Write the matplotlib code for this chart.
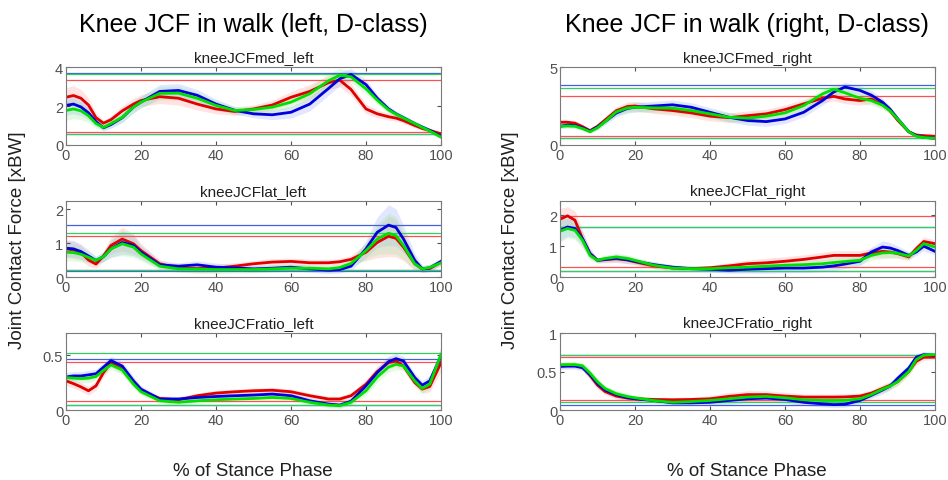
import numpy as np
import matplotlib
matplotlib.use('Agg')
import matplotlib.pyplot as plt
from matplotlib.ticker import FormatStrFormatter

plt.rcParams['font.family'] = ['Liberation Sans', 'DejaVu Sans']

# % of stance phase sample points
pct = [0, 2, 4, 6, 8, 10, 12, 15, 18, 20, 25, 30, 35, 40, 45, 50, 55, 60, 65, 70,
       73, 76, 80, 83, 86, 88, 90, 93, 95, 97, 100]

# ---- medial, left
med_l_red = [2.45, 2.54, 2.4, 2.05, 1.4, 1.12, 1.3, 1.75, 2.1, 2.28, 2.48, 2.4, 2.1, 1.85, 1.72, 1.85,
             2.05, 2.45, 2.75, 3.2, 3.33, 2.85, 1.85, 1.6, 1.45, 1.38, 1.25, 1.0, 0.85, 0.75, 0.57]
med_l_blue = [2.03, 2.1, 1.95, 1.65, 1.2, 0.88, 1.05, 1.4, 1.95, 2.2, 2.75, 2.8, 2.55, 2.1, 1.78, 1.6,
              1.55, 1.68, 2.1, 2.9, 3.4, 3.62, 3.1, 2.4, 1.85, 1.6, 1.4, 1.1, 0.92, 0.75, 0.45]
med_l_green = [1.77, 1.85, 1.75, 1.5, 1.1, 0.9, 1.1, 1.42, 1.95, 2.2, 2.65, 2.66, 2.4, 2.03, 1.77, 1.82,
               1.94, 2.2, 2.63, 3.3, 3.58, 3.5, 2.88, 2.3, 1.8, 1.58, 1.38, 1.1, 0.9, 0.72, 0.4]
med_l_sd = [0.5, 0.5, 0.45, 0.35, 0.25, 0.15, 0.2, 0.25, 0.3, 0.3, 0.35, 0.35, 0.3, 0.25, 0.2, 0.2,
            0.25, 0.3, 0.35, 0.35, 0.35, 0.3, 0.25, 0.2, 0.18, 0.15, 0.15, 0.12, 0.12, 0.12, 0.1]
med_l_lim = {'r': (0.67, 3.35), 'b': (0.55, 3.67), 'g': (0.57, 3.65)}

# ---- medial, right
med_r_red = [1.46, 1.46, 1.4, 1.18, 0.92, 1.2, 1.6, 2.2, 2.47, 2.5, 2.32, 2.21, 2.06, 1.85, 1.75, 1.88,
             2.0, 2.27, 2.64, 3.0, 3.12, 2.95, 2.85, 2.95, 2.6, 2.2, 1.6, 0.85, 0.64, 0.6, 0.56]
med_r_blue = [1.2, 1.28, 1.25, 1.1, 0.88, 1.15, 1.5, 2.05, 2.35, 2.42, 2.5, 2.58, 2.42, 2.1, 1.78, 1.57,
              1.5, 1.67, 2.1, 2.85, 3.4, 3.72, 3.5, 3.2, 2.75, 2.3, 1.7, 0.85, 0.6, 0.5, 0.43]
med_r_green = [1.2, 1.22, 1.2, 1.05, 0.85, 1.1, 1.5, 2.12, 2.38, 2.42, 2.38, 2.36, 2.21, 2.0, 1.78, 1.72,
               1.85, 2.06, 2.53, 3.28, 3.58, 3.35, 3.0, 2.85, 2.55, 2.2, 1.67, 0.85, 0.56, 0.48, 0.43]
med_r_sd = [0.15, 0.15, 0.15, 0.12, 0.1, 0.15, 0.2, 0.25, 0.3, 0.3, 0.3, 0.3, 0.3, 0.3, 0.3, 0.3,
            0.3, 0.3, 0.3, 0.3, 0.3, 0.3, 0.3, 0.3, 0.25, 0.2, 0.15, 0.1, 0.08, 0.08, 0.08]
med_r_lim = {'r': (0.56, 3.13), 'b': (0.43, 3.82), 'g': (0.45, 3.67)}

# ---- lateral, left
lat_l_red = [0.83, 0.8, 0.72, 0.5, 0.38, 0.62, 0.93, 1.12, 0.98, 0.78, 0.39, 0.26, 0.25, 0.26, 0.32, 0.39,
             0.44, 0.46, 0.42, 0.42, 0.45, 0.52, 0.73, 1.02, 1.2, 1.14, 0.88, 0.39, 0.24, 0.25, 0.44]
lat_l_blue = [0.85, 0.83, 0.75, 0.62, 0.49, 0.6, 0.83, 1.02, 0.93, 0.73, 0.36, 0.32, 0.36, 0.29, 0.27, 0.24,
              0.26, 0.29, 0.24, 0.2, 0.22, 0.32, 0.83, 1.32, 1.53, 1.46, 1.12, 0.49, 0.24, 0.27, 0.46]
lat_l_green = [0.73, 0.72, 0.67, 0.58, 0.49, 0.6, 0.83, 0.98, 0.88, 0.68, 0.32, 0.24, 0.23, 0.22, 0.22, 0.22,
               0.24, 0.26, 0.26, 0.24, 0.28, 0.4, 0.78, 1.12, 1.29, 1.22, 0.93, 0.39, 0.24, 0.28, 0.42]
lat_l_sd = [0.25, 0.25, 0.22, 0.18, 0.12, 0.15, 0.25, 0.35, 0.3, 0.2, 0.12, 0.1, 0.12, 0.12, 0.1, 0.1,
            0.1, 0.1, 0.1, 0.1, 0.1, 0.12, 0.25, 0.45, 0.6, 0.55, 0.4, 0.2, 0.1, 0.1, 0.1]
lat_l_lim = {'r': (0.21, 1.21), 'b': (0.19, 1.52), 'g': (0.2, 1.29)}

# ---- lateral, right
lat_r_red = [1.87, 1.98, 1.84, 1.24, 0.76, 0.54, 0.56, 0.59, 0.55, 0.49, 0.36, 0.29, 0.27, 0.3, 0.36, 0.43,
             0.46, 0.51, 0.57, 0.65, 0.7, 0.7, 0.7, 0.78, 0.83, 0.81, 0.76, 0.65, 0.92, 1.15, 1.08]
lat_r_blue = [1.51, 1.62, 1.57, 1.24, 0.76, 0.54, 0.57, 0.61, 0.56, 0.51, 0.4, 0.32, 0.27, 0.25, 0.22, 0.25,
              0.27, 0.29, 0.29, 0.32, 0.36, 0.42, 0.51, 0.81, 0.97, 0.94, 0.86, 0.7, 0.81, 1.0, 0.83]
lat_r_green = [1.48, 1.57, 1.51, 1.19, 0.7, 0.54, 0.6, 0.65, 0.6, 0.54, 0.38, 0.29, 0.27, 0.27, 0.3, 0.32,
               0.35, 0.38, 0.4, 0.43, 0.47, 0.5, 0.54, 0.7, 0.78, 0.79, 0.77, 0.68, 0.86, 1.08, 0.97]
lat_r_sd = [0.35, 0.3, 0.3, 0.25, 0.15, 0.08, 0.1, 0.12, 0.12, 0.1, 0.1, 0.08, 0.08, 0.08, 0.1, 0.12,
            0.15, 0.15, 0.15, 0.15, 0.15, 0.15, 0.15, 0.15, 0.2, 0.18, 0.15, 0.12, 0.12, 0.15, 0.12]
lat_r_lim = {'r': (0.32, 1.97), 'b': (0.19, 1.62), 'g': (0.21, 1.61)}

# ---- ratio, left
rat_l_red = [0.265, 0.24, 0.21, 0.175, 0.22, 0.34, 0.43, 0.37, 0.25, 0.175, 0.105, 0.093, 0.13, 0.154, 0.166,
             0.175, 0.18, 0.166, 0.13, 0.1, 0.1, 0.13, 0.235, 0.35, 0.43, 0.446, 0.4, 0.25, 0.19, 0.214, 0.43]
rat_l_blue = [0.3, 0.31, 0.31, 0.32, 0.33, 0.39, 0.45, 0.4, 0.265, 0.19, 0.1, 0.1, 0.114, 0.123, 0.13,
              0.136, 0.145, 0.13, 0.084, 0.054, 0.045, 0.08, 0.22, 0.34, 0.44, 0.467, 0.446, 0.295, 0.226, 0.265, 0.49]
rat_l_green = [0.295, 0.29, 0.286, 0.29, 0.305, 0.36, 0.41, 0.364, 0.235, 0.166, 0.084, 0.07, 0.084, 0.093, 0.1,
               0.105, 0.114, 0.105, 0.07, 0.045, 0.04, 0.07, 0.175, 0.3, 0.39, 0.416, 0.4, 0.265, 0.196, 0.235, 0.506]
rat_l_sd = [0.04, 0.04, 0.04, 0.04, 0.04, 0.04, 0.04, 0.04, 0.04, 0.03, 0.025, 0.025, 0.025, 0.025, 0.025, 0.025,
            0.025, 0.025, 0.025, 0.025, 0.025, 0.03, 0.04, 0.05, 0.05, 0.05, 0.04, 0.04, 0.04, 0.05, 0.08]
rat_l_lim = {'r': (0.078, 0.437), 'b': (0.045, 0.467), 'g': (0.042, 0.515)}

# ---- ratio, right
rat_r_red = [0.58, 0.58, 0.58, 0.56, 0.45, 0.323, 0.24, 0.181, 0.155, 0.146, 0.137, 0.133, 0.137, 0.146, 0.177,
             0.2, 0.2, 0.181, 0.168, 0.168, 0.168, 0.17, 0.181, 0.22, 0.28, 0.32, 0.367, 0.5, 0.633, 0.686, 0.686]
rat_r_blue = [0.566, 0.57, 0.57, 0.55, 0.46, 0.345, 0.26, 0.2, 0.16, 0.146, 0.124, 0.093, 0.093, 0.1, 0.124,
              0.146, 0.155, 0.137, 0.1, 0.08, 0.07, 0.075, 0.124, 0.19, 0.26, 0.31, 0.41, 0.545, 0.686, 0.72, 0.712]
rat_r_green = [0.588, 0.59, 0.59, 0.575, 0.48, 0.367, 0.28, 0.212, 0.175, 0.159, 0.124, 0.1, 0.11, 0.124, 0.146,
               0.168, 0.177, 0.159, 0.133, 0.124, 0.124, 0.125, 0.146, 0.2, 0.27, 0.31, 0.367, 0.5, 0.655, 0.712, 0.72]
rat_r_sd = [0.04, 0.04, 0.04, 0.04, 0.05, 0.05, 0.04, 0.04, 0.04, 0.03, 0.03, 0.03, 0.03, 0.04, 0.05, 0.05,
            0.05, 0.05, 0.04, 0.04, 0.04, 0.04, 0.04, 0.04, 0.05, 0.05, 0.05, 0.05, 0.05, 0.04, 0.03]
rat_r_lim = {'r': (0.133, 0.686), 'b': (0.066, 0.712), 'g': (0.10, 0.714)}

panels = [
    # (col, row, title, red, blue, green, sd, limits, ylim top, yticks)
    (0, 0, 'kneeJCFmed_left', med_l_red, med_l_blue, med_l_green, med_l_sd, med_l_lim, 4, [0, 2, 4]),
    (1, 0, 'kneeJCFmed_right', med_r_red, med_r_blue, med_r_green, med_r_sd, med_r_lim, 5, [0, 5]),
    (0, 1, 'kneeJCFlat_left', lat_l_red, lat_l_blue, lat_l_green, lat_l_sd, lat_l_lim, 2.24, [0, 1, 2]),
    (1, 1, 'kneeJCFlat_right', lat_r_red, lat_r_blue, lat_r_green, lat_r_sd, lat_r_lim, 2.46, [0, 1, 2]),
    (0, 2, 'kneeJCFratio_left', rat_l_red, rat_l_blue, rat_l_green, rat_l_sd, rat_l_lim, 0.7, [0, 0.5]),
    (1, 2, 'kneeJCFratio_right', rat_r_red, rat_r_blue, rat_r_green, rat_r_sd, rat_r_lim, 1.0, [0, 0.5, 1]),
]

line_col = {'r': '#e00000', 'b': '#0000dd', 'g': '#00e000'}
band_col = {'r': '#ff9999', 'b': '#99aaff', 'g': '#99ee99'}
hline_col = {'r': '#ff5050', 'b': '#4060e0', 'g': '#30d060'}

fig = plt.figure(figsize=(9.48, 4.81), dpi=100)
lefts = [0.0696, 0.5907]
bottoms = [0.6965, 0.422, 0.1455]
heights = [0.162, 0.158, 0.160]
x = np.array(pct)
gray = '#505050'

for col, row, title, red, blue, green, sd, lims, ytop, yt in panels:
    ax = fig.add_axes([lefts[col], bottoms[row], 0.3956, heights[row]])
    sd = np.array(sd)
    series = [('r', red), ('b', blue), ('g', green)]
    for k, y in series:
        y = np.array(y)
        ax.fill_between(x, y - sd, y + sd, color=band_col[k], alpha=0.28, lw=0)
    for k, y in series:
        lo, hi = lims[k]
        ax.axhline(lo, color=hline_col[k], lw=0.9)
        ax.axhline(hi, color=hline_col[k], lw=0.9)
    for k, y in series:
        ax.plot(x, y, color=line_col[k], lw=2)
    ax.set_xlim(0, 100)
    ax.set_ylim(0, ytop)
    ax.set_xticks([0, 20, 40, 60, 80, 100])
    ax.set_yticks(yt)
    ax.yaxis.set_major_formatter(FormatStrFormatter('%g'))
    ax.tick_params(direction='in', top=True, right=True, length=3, colors=gray,
                   labelsize=10.5, pad=2)
    for s in ax.spines.values():
        s.set_color('#7a7a7a')
    ax.set_title(title, fontsize=11, pad=4, color='#202020')

fig.text(0.267, 0.948, 'Knee JCF in walk (left, D-class)', ha='center', va='center', fontsize=18)
fig.text(0.788, 0.948, 'Knee JCF in walk (right, D-class)', ha='center', va='center', fontsize=18)
fig.text(0.018, 0.5, 'Joint Contact Force [xBW]', rotation=90, ha='center', va='center', fontsize=13.5,
         color='#202020')
fig.text(0.538, 0.5, 'Joint Contact Force [xBW]', rotation=90, ha='center', va='center', fontsize=13.5,
         color='#202020')
fig.text(0.267, 0.02, '% of Stance Phase', ha='center', va='center', fontsize=13.5, color='#202020')
fig.text(0.788, 0.02, '% of Stance Phase', ha='center', va='center', fontsize=13.5, color='#202020')

plt.savefig('out.png', dpi=100)
